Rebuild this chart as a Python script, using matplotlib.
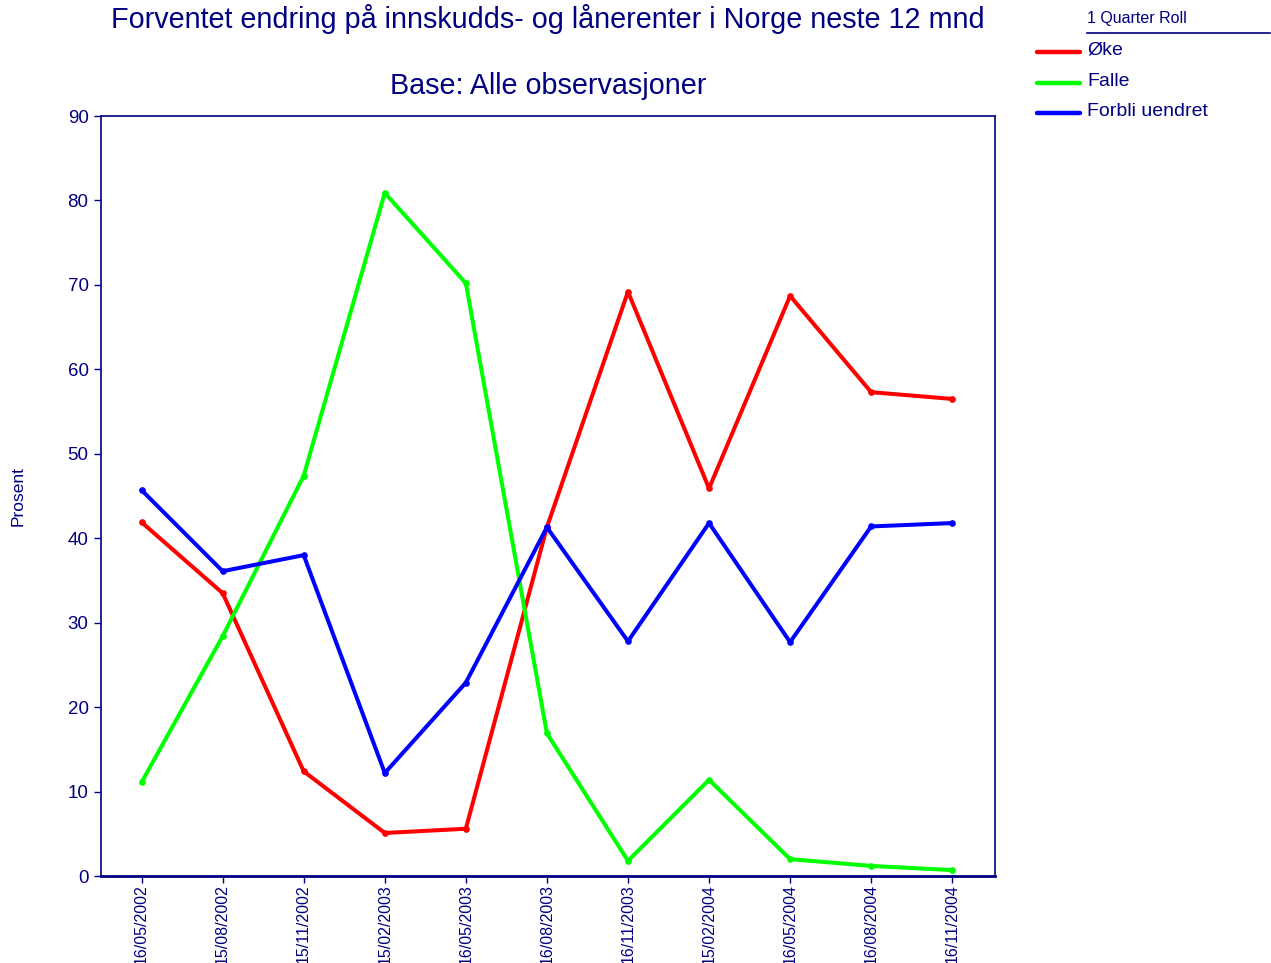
import matplotlib
matplotlib.use("Agg")
import matplotlib.pyplot as plt
from matplotlib.lines import Line2D

plt.rcParams['font.family'] = ['Liberation Sans', 'DejaVu Sans']

dates = ["16/05/2002", "15/08/2002", "15/11/2002", "15/02/2003", "16/05/2003",
         "16/08/2003", "16/11/2003", "15/02/2004", "16/05/2004", "16/08/2004",
         "16/11/2004"]
oke = [41.9, 33.5, 12.4, 5.1, 5.6, 41.3, 69.2, 45.9, 68.7, 57.3, 56.5]
falle = [11.1, 28.4, 47.4, 80.9, 70.2, 16.9, 1.8, 11.4, 2.0, 1.2, 0.7]
forbli = [45.7, 36.1, 38.0, 12.2, 22.9, 41.3, 27.8, 41.8, 27.7, 41.4, 41.8]

series_names = ["Øke", "Falle", "Forbli uendret"]
series_colors = ["#FF0000", "#00FF00", "#0000FF"]
navy = "#000080"

fig = plt.figure(figsize=(12.71, 9.63), dpi=100)
ax = fig.add_axes([0.0795, 0.0903, 0.7035, 0.7892])

x = list(range(len(dates)))
for vals, col in zip([oke, falle, forbli], series_colors):
    ax.plot(x, vals, color=col, lw=2.9, marker='o', ms=3.8, solid_joinstyle='round',
            solid_capstyle='round')

ax.set_xlim(-0.5, len(dates) - 0.5 + 0.03)
ax.set_ylim(0, 90)
ax.set_yticks(range(0, 91, 10))
ax.set_xticks(x)
ax.set_xticklabels(dates, rotation=90, fontsize=11.5, color=navy)
ax.tick_params(axis='y', labelsize=13.5, colors=navy, length=5, width=1, direction='out', pad=4)
ax.tick_params(axis='x', colors=navy, length=5, width=1, direction='out', pad=1)
for s in ['left', 'right', 'top']:
    ax.spines[s].set_color(navy)
    ax.spines[s].set_linewidth(1.2)
ax.spines['bottom'].set_color(navy)
ax.spines['bottom'].set_linewidth(2.0)

ax.set_ylabel("Prosent", fontsize=12.5, color=navy, labelpad=30)

fig.text(548 / 1271, 1 - 19 / 963, "Forventet endring på innskudds- og lånerenter i Norge neste 12 mnd",
         ha='center', va='center', fontsize=20.7, color=navy)
fig.text(548 / 1271, 1 - 86 / 963, "Base: Alle observasjoner",
         ha='center', va='center', fontsize=20.7, color=navy)

# Legend
fig.text(1087 / 1271, 1 - 19 / 963, "1 Quarter Roll", ha='left', va='center', fontsize=11.5, color=navy)
fig.add_artist(Line2D([1087 / 1271, 1270 / 1271], [1 - 33 / 963, 1 - 33 / 963],
                      color=navy, lw=1.2, transform=fig.transFigure))
ys = [52, 83, 113]
for name, col, yy in zip(series_names, series_colors, ys):
    fy = 1 - yy / 963
    fig.add_artist(Line2D([1037 / 1271, 1080 / 1271], [fy, fy], color=col, lw=3.2,
                          solid_capstyle='round', transform=fig.transFigure))
    fig.text(1087 / 1271, fy + 0.002, name, ha='left', va='center', fontsize=14, color=navy)

fig.savefig("out.png", dpi=100)
